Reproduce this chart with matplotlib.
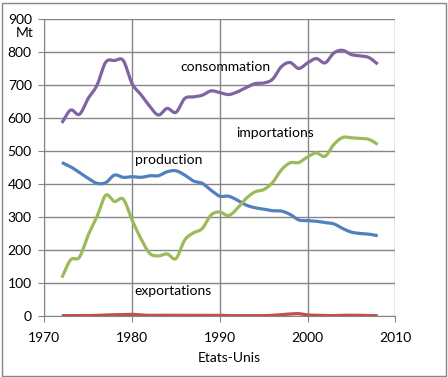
import matplotlib
matplotlib.use("Agg")
import matplotlib.pyplot as plt
import numpy as np
from matplotlib.patches import Rectangle

annees = list(range(1972, 2009))
consommation = [586, 625, 612, 660, 700, 770, 775, 775, 705, 672, 637, 610, 630, 618,
                660, 665, 670, 683, 678, 672, 680, 693, 705, 707, 718, 756, 769, 751,
                768, 781, 768, 798, 806, 793, 789, 784, 764]
production = [466, 453, 436, 418, 403, 405, 428, 421, 423, 421, 426, 426, 438, 441,
              428, 410, 403, 382, 364, 364, 352, 337, 329, 325, 320, 319, 309, 292,
              290, 288, 284, 280, 266, 255, 251, 249, 244]
importations = [117, 171, 179, 246, 302, 367, 348, 355, 292, 236, 191, 183, 189, 175,
                231, 253, 266, 307, 316, 305, 327, 357, 377, 384, 405, 443, 465, 466,
                483, 495, 485, 521, 542, 541, 539, 536, 521]
exportations = [2, 2, 2, 2, 3, 4, 5, 5, 6, 4, 3, 3, 3, 3, 3, 3, 3, 3, 3, 2, 2, 2, 2,
                2, 3, 5, 7, 8, 4, 3, 2, 2, 3, 3, 3, 2, 2]

C_CONS = "#8064A2"
C_PROD = "#4F81BD"
C_IMP = "#9BBB59"
C_EXP = "#C0504D"
C_GRILLE = "#868686"


def lisse(x, y, n=12):
    # courbe lissee facon Excel (Catmull-Rom) passant par les points
    x = np.asarray(x, float); y = np.asarray(y, float)
    px = np.concatenate([[2 * x[0] - x[1]], x, [2 * x[-1] - x[-2]]])
    py = np.concatenate([[2 * y[0] - y[1]], y, [2 * y[-1] - y[-2]]])
    xs, ys = [], []
    t = np.linspace(0, 1, n, endpoint=False)
    for i in range(1, len(px) - 2):
        for p, out in ((px, xs), (py, ys)):
            p0, p1, p2, p3 = p[i - 1], p[i], p[i + 1], p[i + 2]
            out.extend(0.5 * (2 * p1 + (-p0 + p2) * t + (2 * p0 - 5 * p1 + 4 * p2 - p3) * t ** 2
                              + (-p0 + 3 * p1 - 3 * p2 + p3) * t ** 3))
    xs.append(x[-1]); ys.append(y[-1])
    return np.array(xs), np.array(ys)


plt.rcParams["font.family"] = ["Lato", "DejaVu Sans"]
fig = plt.figure(figsize=(4.48, 3.77), dpi=100)
ax = fig.add_axes([44.3 / 448, 1 - 316.3 / 377, (395.3 - 44.3) / 448, (316.3 - 19.3) / 377])

for serie, c in ((consommation, C_CONS), (production, C_PROD),
                 (importations, C_IMP), (exportations, C_EXP)):
    xs, ys = lisse(annees, serie)
    ax.plot(xs, ys, color=c, lw=2.3, solid_capstyle="butt", zorder=3)

ax.set_xlim(1970, 2010)
ax.set_ylim(0, 900)
ax.set_xticks(range(1970, 2011, 10))
ax.set_yticks(range(0, 901, 100))
ax.grid(True, color=C_GRILLE, lw=1)
ax.set_axisbelow(True)
for s in ("top", "right"):
    ax.spines[s].set_visible(False)
for s in ("left", "bottom"):
    ax.spines[s].set_color(C_GRILLE)
ax.tick_params(colors=C_GRILLE, labelcolor="black", length=4, labelsize=10, pad=5)
ax.tick_params(axis="x", pad=7)

ax.text(1985.5, 755, "consommation", fontsize=10, va="center")
ax.text(1991.9, 555, "importations", fontsize=10, va="center")
ax.text(1980.3, 473, "production", fontsize=10, va="center")
ax.text(1980.3, 76, "exportations", fontsize=10, va="center")

fig.text(25 / 448, 1 - 33 / 377, "Mt", fontsize=10, ha="center", va="center")
fig.text(229 / 448, 1 - 358 / 377, "Etats-Unis", fontsize=10, ha="center", va="center")
fig.patches.append(Rectangle((1.5 / 448, 1.5 / 377), 444 / 448, 373 / 377,
                             transform=fig.transFigure, fill=False,
                             edgecolor=C_GRILLE, lw=1))

fig.savefig("out.png", dpi=100)
